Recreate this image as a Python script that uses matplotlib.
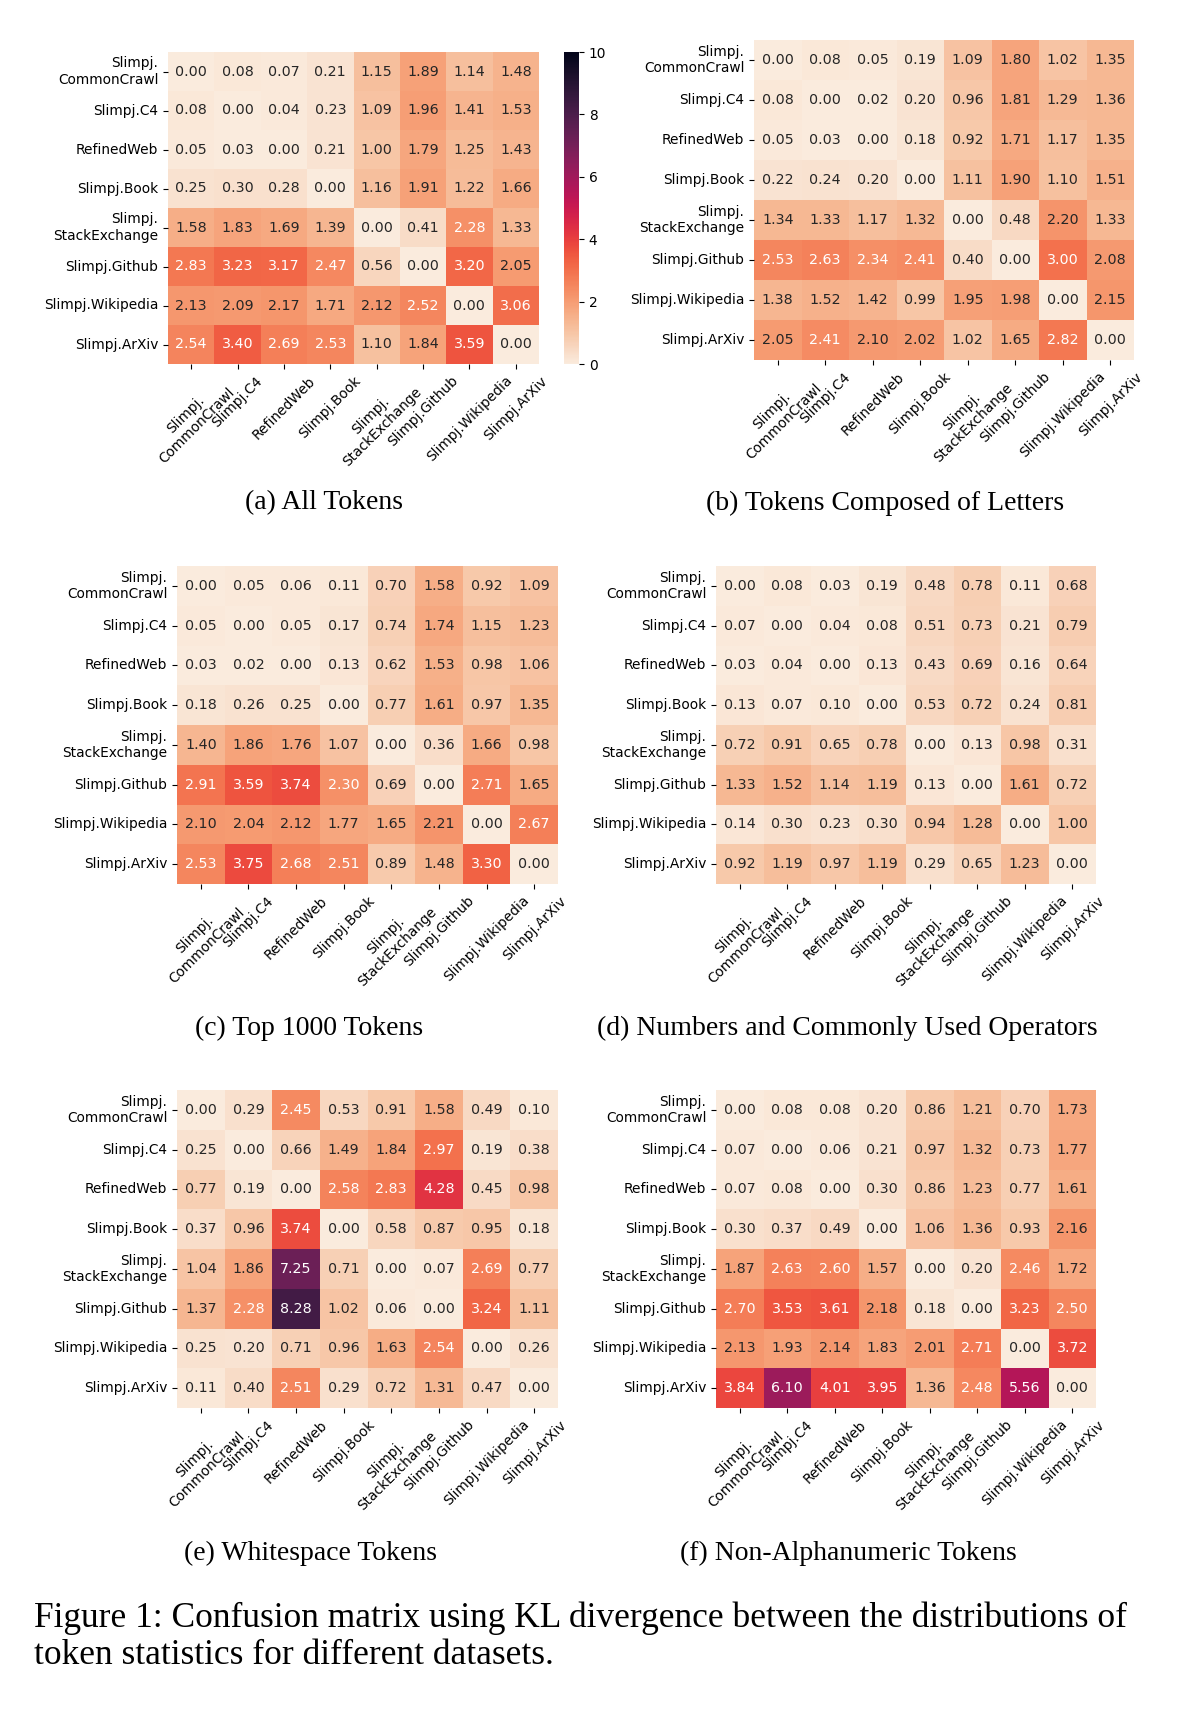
import numpy as np
import matplotlib
matplotlib.use("Agg")
import matplotlib.pyplot as plt
import seaborn as sns

labels = ["Slimpj.\nCommonCrawl", "Slimpj.C4", "RefinedWeb", "Slimpj.Book",
          "Slimpj.\nStackExchange", "Slimpj.Github", "Slimpj.Wikipedia", "Slimpj.ArXiv"]

all_tokens = [
    [0.00, 0.08, 0.07, 0.21, 1.15, 1.89, 1.14, 1.48],
    [0.08, 0.00, 0.04, 0.23, 1.09, 1.96, 1.41, 1.53],
    [0.05, 0.03, 0.00, 0.21, 1.00, 1.79, 1.25, 1.43],
    [0.25, 0.30, 0.28, 0.00, 1.16, 1.91, 1.22, 1.66],
    [1.58, 1.83, 1.69, 1.39, 0.00, 0.41, 2.28, 1.33],
    [2.83, 3.23, 3.17, 2.47, 0.56, 0.00, 3.20, 2.05],
    [2.13, 2.09, 2.17, 1.71, 2.12, 2.52, 0.00, 3.06],
    [2.54, 3.40, 2.69, 2.53, 1.10, 1.84, 3.59, 0.00],
]
letter_tokens = [
    [0.00, 0.08, 0.05, 0.19, 1.09, 1.80, 1.02, 1.35],
    [0.08, 0.00, 0.02, 0.20, 0.96, 1.81, 1.29, 1.36],
    [0.05, 0.03, 0.00, 0.18, 0.92, 1.71, 1.17, 1.35],
    [0.22, 0.24, 0.20, 0.00, 1.11, 1.90, 1.10, 1.51],
    [1.34, 1.33, 1.17, 1.32, 0.00, 0.48, 2.20, 1.33],
    [2.53, 2.63, 2.34, 2.41, 0.40, 0.00, 3.00, 2.08],
    [1.38, 1.52, 1.42, 0.99, 1.95, 1.98, 0.00, 2.15],
    [2.05, 2.41, 2.10, 2.02, 1.02, 1.65, 2.82, 0.00],
]
top1000_tokens = [
    [0.00, 0.05, 0.06, 0.11, 0.70, 1.58, 0.92, 1.09],
    [0.05, 0.00, 0.05, 0.17, 0.74, 1.74, 1.15, 1.23],
    [0.03, 0.02, 0.00, 0.13, 0.62, 1.53, 0.98, 1.06],
    [0.18, 0.26, 0.25, 0.00, 0.77, 1.61, 0.97, 1.35],
    [1.40, 1.86, 1.76, 1.07, 0.00, 0.36, 1.66, 0.98],
    [2.91, 3.59, 3.74, 2.30, 0.69, 0.00, 2.71, 1.65],
    [2.10, 2.04, 2.12, 1.77, 1.65, 2.21, 0.00, 2.67],
    [2.53, 3.75, 2.68, 2.51, 0.89, 1.48, 3.30, 0.00],
]
number_tokens = [
    [0.00, 0.08, 0.03, 0.19, 0.48, 0.78, 0.11, 0.68],
    [0.07, 0.00, 0.04, 0.08, 0.51, 0.73, 0.21, 0.79],
    [0.03, 0.04, 0.00, 0.13, 0.43, 0.69, 0.16, 0.64],
    [0.13, 0.07, 0.10, 0.00, 0.53, 0.72, 0.24, 0.81],
    [0.72, 0.91, 0.65, 0.78, 0.00, 0.13, 0.98, 0.31],
    [1.33, 1.52, 1.14, 1.19, 0.13, 0.00, 1.61, 0.72],
    [0.14, 0.30, 0.23, 0.30, 0.94, 1.28, 0.00, 1.00],
    [0.92, 1.19, 0.97, 1.19, 0.29, 0.65, 1.23, 0.00],
]
whitespace_tokens = [
    [0.00, 0.29, 2.45, 0.53, 0.91, 1.58, 0.49, 0.10],
    [0.25, 0.00, 0.66, 1.49, 1.84, 2.97, 0.19, 0.38],
    [0.77, 0.19, 0.00, 2.58, 2.83, 4.28, 0.45, 0.98],
    [0.37, 0.96, 3.74, 0.00, 0.58, 0.87, 0.95, 0.18],
    [1.04, 1.86, 7.25, 0.71, 0.00, 0.07, 2.69, 0.77],
    [1.37, 2.28, 8.28, 1.02, 0.06, 0.00, 3.24, 1.11],
    [0.25, 0.20, 0.71, 0.96, 1.63, 2.54, 0.00, 0.26],
    [0.11, 0.40, 2.51, 0.29, 0.72, 1.31, 0.47, 0.00],
]
nonalnum_tokens = [
    [0.00, 0.08, 0.08, 0.20, 0.86, 1.21, 0.70, 1.73],
    [0.07, 0.00, 0.06, 0.21, 0.97, 1.32, 0.73, 1.77],
    [0.07, 0.08, 0.00, 0.30, 0.86, 1.23, 0.77, 1.61],
    [0.30, 0.37, 0.49, 0.00, 1.06, 1.36, 0.93, 2.16],
    [1.87, 2.63, 2.60, 1.57, 0.00, 0.20, 2.46, 1.72],
    [2.70, 3.53, 3.61, 2.18, 0.18, 0.00, 3.23, 2.50],
    [2.13, 1.93, 2.14, 1.83, 2.01, 2.71, 0.00, 3.72],
    [3.84, 6.10, 4.01, 3.95, 1.36, 2.48, 5.56, 0.00],
]

subcaptions = ["(a) All Tokens", "(b) Tokens Composed of Letters", "(c) Top 1000 Tokens",
               "(d) Numbers and Commonly Used Operators", "(e) Whitespace Tokens",
               "(f) Non-Alphanumeric Tokens"]
caption = ("Figure 1: Confusion matrix using KL divergence between the distributions of\n"
           "token statistics for different datasets.")

W, H = 1184, 1712
fig = plt.figure(figsize=(W / 100, H / 100), dpi=100)

def px_axes(x0, y0, x1, y1):
    return fig.add_axes([x0 / W, 1 - y1 / H, (x1 - x0) / W, (y1 - y0) / H])

# pixel boxes for each heatmap (left, top, right, bottom)
boxes = [(168, 52, 539, 364), (754, 40, 1134, 360),
         (177, 566, 558, 884), (716, 566, 1096, 884),
         (177, 1090, 558, 1408), (716, 1090, 1096, 1408)]
cap_pos = [(324, 503), (885, 503), (309, 1028), (847, 1028), (310, 1553), (848, 1553)]
mats = [all_tokens, letter_tokens, top1000_tokens, number_tokens, whitespace_tokens, nonalnum_tokens]

serif = ["Liberation Serif", "DejaVu Serif"]
fs_annot = 10.3
fs_tick = 9.9

for i, (m, box) in enumerate(zip(mats, boxes)):
    ax = px_axes(*box)
    if i == 0:
        cax = px_axes(564, 52, 579, 364)
        kw = dict(cbar=True, cbar_ax=cax)
    else:
        kw = dict(cbar=False)
    sns.heatmap(np.array(m), ax=ax, cmap="rocket_r", vmin=0, vmax=10, annot=True, fmt=".2f",
                annot_kws={"fontsize": fs_annot}, xticklabels=labels, yticklabels=labels,
                square=False, **kw)
    ax.set_xticklabels(labels, rotation=45, ha="center", fontsize=fs_tick)
    ax.set_yticklabels(labels, rotation=0, ha="right", fontsize=fs_tick)
    if i == 0:
        cax.tick_params(labelsize=fs_tick)
        cax.set_yticks([0, 2, 4, 6, 8, 10])
    cx, cy = cap_pos[i]
    fig.text(cx / W, 1 - cy / H, subcaptions[i], ha="center", va="center",
             fontsize=20, family=serif)

fig.text(34 / W, 1 - 1637 / H, caption, ha="left", va="center", fontsize=25.5,
         family=serif, linespacing=1.16)

fig.savefig("out.png", dpi=100)
